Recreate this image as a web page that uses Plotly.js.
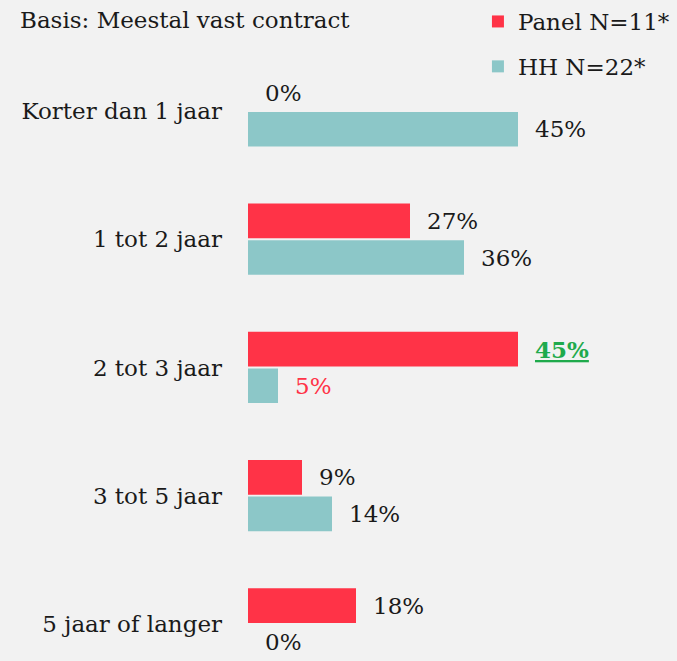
<!DOCTYPE html>
<html>
<head>
<meta charset="utf-8">
<script src="https://cdn.plot.ly/plotly-3.0.1.min.js"></script>
<style>
  html, body { margin: 0; padding: 0; background: #f2f2f2; }
  #chart { width: 677px; height: 661px; }
</style>
</head>
<body>
<div id="chart"></div>
<script>
// Categories, top to bottom
const categories = ['Korter dan 1 jaar', '1 tot 2 jaar', '2 tot 3 jaar', '3 tot 5 jaar', '5 jaar of langer'];

// Percentages per group
const panelValues = [0, 27, 45, 9, 18];
const hhValues = [45, 36, 5, 14, 0];

const seriesNames = ['Panel N=11*', 'HH N=22*'];
const chartTitle = 'Basis: Meestal vast contract';

const FONT = "'DejaVu Serif', 'Liberation Serif', serif";
const FS = 23;
const RED = '#ff3347';
const TEAL = '#8cc7c8';
const TEXT = '#1a1a1a';
const BARGAP = 0.43;

// Label styling overrides: [series index, category index] -> style
const labelStyles = {
    '0,2': { color: '#1faa4c', bold: true, underline: true },
    '1,2': { color: RED },
};

const traces = [
    {
        type: 'bar', orientation: 'h',
        y: categories, x: panelValues,
        name: seriesNames[0],
        marker: { color: RED },
        legendgroup: 'a',
        hoverinfo: 'skip',
    },
    {
        type: 'bar', orientation: 'h',
        y: categories, x: hhValues,
        name: seriesNames[1],
        marker: { color: TEAL },
        legendgroup: 'b',
        hoverinfo: 'skip',
    },
];

// Value labels placed next to each bar end
const annotations = [];
const offset = (1 - BARGAP) / 4;
[panelValues, hhValues].forEach((vals, s) => {
    vals.forEach((v, i) => {
        const st = labelStyles[s + ',' + i] || {};
        let txt = v + '%';
        if (st.bold) txt = '<b>' + txt + '</b>';
        if (st.underline) txt = '<u>' + txt + '</u>';
        annotations.push({
            x: v,
            y: i + (s === 0 ? -offset : offset),
            xref: 'x', yref: 'y',
            text: txt,
            showarrow: false,
            xanchor: 'left',
            yanchor: 'middle',
            xshift: 15,
            font: { family: FONT, size: FS, color: st.color || TEXT },
        });
    });
});

const layout = {
    width: 677,
    height: 661,
    paper_bgcolor: '#f2f2f2',
    plot_bgcolor: '#f2f2f2',
    font: { family: FONT, size: FS, color: TEXT },
    margin: { l: 248, r: 0, t: 0, b: 0 },
    barmode: 'group',
    bargap: BARGAP,
    bargroupgap: 0.05,
    title: {
        text: chartTitle,
        x: 20 / 677, xanchor: 'left',
        y: 1 - 20 / 661, yanchor: 'middle',
        font: { family: FONT, size: FS, color: TEXT },
    },
    showlegend: true,
    legend: {
        x: 0.536, xanchor: 'left',
        y: 1.0, yanchor: 'top',
        traceorder: 'grouped',
        tracegroupgap: 12,
        bgcolor: 'rgba(0,0,0,0)',
        font: { family: FONT, size: FS, color: TEXT },
    },
    xaxis: {
        range: [0, 71.5],
        visible: false,
        showgrid: false,
        zeroline: false,
    },
    yaxis: {
        type: 'category',
        range: [4.289, -0.8655],
        showgrid: false,
        zeroline: false,
        showline: false,
        ticks: '',
        ticklabelstandoff: 25,
        tickfont: { family: FONT, size: FS, color: TEXT },
    },
    annotations: annotations,
};

Plotly.newPlot('chart', traces, layout, { displayModeBar: false, staticPlot: true });
</script>
</body>
</html>
